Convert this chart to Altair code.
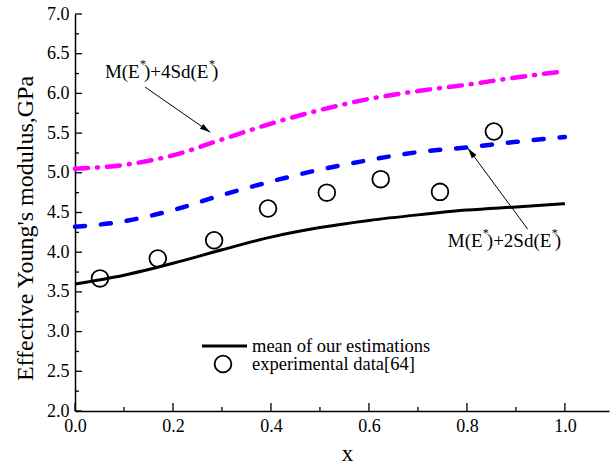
import math
import altair as alt
import pandas as pd

# ---------------- data ----------------
x_grid = [0.0, 0.1, 0.2, 0.3, 0.4, 0.5, 0.6, 0.7, 0.8, 0.9, 1.0]
mean_vals = [3.60, 3.71, 3.86, 4.03, 4.19, 4.31, 4.40, 4.47, 4.53, 4.57, 4.61]
sd2_vals = [4.32, 4.39, 4.53, 4.72, 4.89, 5.04, 5.16, 5.26, 5.32, 5.39, 5.45]
sd4_vals = [5.05, 5.10, 5.22, 5.42, 5.62, 5.79, 5.93, 6.03, 6.11, 6.20, 6.28]

exp_x = [0.051, 0.169, 0.284, 0.394, 0.514, 0.624, 0.745, 0.855]
exp_y = [3.67, 3.92, 4.15, 4.55, 4.75, 4.92, 4.76, 5.52]

y_major = [2.0, 2.5, 3.0, 3.5, 4.0, 4.5, 5.0, 5.5, 6.0, 6.5, 7.0]
y_minor = [2.25, 2.75, 3.25, 3.75, 4.25, 4.75, 5.25, 5.75, 6.25, 6.75]
x_major = [0.0, 0.2, 0.4, 0.6, 0.8, 1.0]
x_minor = [0.1, 0.3, 0.5, 0.7, 0.9]

ann_text = ["M(E*)+4Sd(E*)", "M(E*)+2Sd(E*)"]
ann_x = [0.061, 0.761]
ann_y = [6.20, 4.06]
arrow_x1 = [0.143, 0.924]
arrow_y1 = [6.08, 4.29]
arrow_x2 = [0.276, 0.802]
arrow_y2 = [5.51, 5.31]

legend_labels = ["mean of our estimations", "experimental data[64]"]
x_title = "x"
y_title = "Effective Young's modulus,GPa"

# ---------------- layout ----------------
W, H = 534, 397
X_DOM = [0.0, 1.09]
Y_DOM = [2.0, 7.0]
FONT = "Liberation Serif"

xs = alt.Scale(domain=X_DOM, nice=False, zero=False)
ys = alt.Scale(domain=Y_DOM, nice=False, zero=False)

AX_X = alt.Axis(values=x_major, format=".1f", title=x_title, grid=False,
                ticks=False, tickSize=0, labelPadding=6, labelOverlap=False,
                labelFlush=False, titleX=272, titleY=42, titleBaseline="middle",
                titleFontSize=23)
AX_Y = alt.Axis(values=y_major, format=".1f", title=y_title, grid=False,
                ticks=False, tickSize=0, labelPadding=6, labelOverlap=False,
                labelFlush=False, titleX=-50, titleY=214, titleAngle=270,
                titleAlign="center", titleBaseline="middle", titleFontSize=24)


def X(f):
    return alt.X(f, scale=xs, axis=AX_X, title=x_title)


def Y(f):
    return alt.Y(f, scale=ys, axis=AX_Y, title=y_title)


curves = pd.DataFrame({"x": x_grid, "mean": mean_vals, "sd2": sd2_vals, "sd4": sd4_vals})
exp_df = pd.DataFrame({"x": exp_x, "y": exp_y})
one = pd.DataFrame({"k": [0]})

base = alt.Chart(curves)

mean_line = base.mark_line(color="black", strokeWidth=3, interpolate="monotone").encode(
    x=X("x:Q"), y=Y("mean:Q"))
sd2_line = base.mark_line(color="#0000FF", strokeWidth=4.5, interpolate="monotone",
                          strokeDash=[10, 16], strokeCap="round").encode(
    x=X("x:Q"), y=Y("sd2:Q"))
sd4_line = base.mark_line(color="#FF00FF", strokeWidth=4.5, interpolate="monotone",
                          strokeDash=[13, 9, 1, 9], strokeCap="round").encode(
    x=X("x:Q"), y=Y("sd4:Q"))

points = alt.Chart(exp_df).mark_point(shape="circle", size=280, filled=False,
                                      color="black", strokeWidth=1.8, opacity=1).encode(
    x=X("x:Q"), y=Y("y:Q"))


# inward ticks
def yticks(vals, length):
    return alt.Chart(pd.DataFrame({"v": vals})).mark_rule(color="black", strokeWidth=1.3).encode(
        y=Y("v:Q"), x=alt.value(0), x2=alt.value(length))


def xticks(vals, length):
    return alt.Chart(pd.DataFrame({"v": vals})).mark_rule(color="black", strokeWidth=1.3).encode(
        x=X("v:Q"), y=alt.value(H), y2=alt.value(H - length))


ticks = [yticks(y_major, 7), yticks(y_minor, 4), xticks(x_major, 8), xticks(x_minor, 4)]

# annotations
ann_layers = []
for t, ax, ay in zip(ann_text, ann_x, ann_y):
    segs = t.split("*")
    d = pd.DataFrame({"x": [ax], "y": [ay]})
    offs = [0, 39, 107]
    star_offs = [35, 104]
    for s, o in zip(segs, offs):
        ann_layers.append(alt.Chart(d).mark_text(
            text=s, align="left", baseline="alphabetic", dx=o, font=FONT,
            fontSize=19, color="black").encode(x=X("x:Q"), y=Y("y:Q")))
    for o in star_offs:
        ann_layers.append(alt.Chart(d).mark_text(
            text="*", align="left", baseline="alphabetic", dx=o, dy=-10, font=FONT,
            fontSize=12, color="black").encode(x=X("x:Q"), y=Y("y:Q")))

px_x = W / (X_DOM[1] - X_DOM[0])
px_y = H / (Y_DOM[1] - Y_DOM[0])
angles = [math.degrees(math.atan2((b - a) * px_x, (d - c) * px_y)) % 360
          for a, b, c, d in zip(arrow_x1, arrow_x2, arrow_y1, arrow_y2)]
arrows_df = pd.DataFrame({"x1": arrow_x1, "y1": arrow_y1, "x2": arrow_x2,
                          "y2": arrow_y2, "ang": angles})
arrow_lines = alt.Chart(arrows_df).mark_rule(color="black", strokeWidth=1).encode(
    x=X("x1:Q"), y=Y("y1:Q"), x2="x2:Q", y2="y2:Q")
arrow_heads = alt.Chart(arrows_df).mark_point(
    shape="M0,0L0.55,2L-0.55,2Z", filled=True, color="black", size=110, opacity=1).encode(
    x=X("x2:Q"), y=Y("y2:Q"), angle=alt.Angle("ang:Q", scale=None))

# legend (manual, inside plot)
leg_line = alt.Chart(one).mark_rule(color="black", strokeWidth=3).encode(
    x=alt.value(127), x2=alt.value(172), y=alt.value(332))
leg_circle = alt.Chart(one).mark_point(shape="circle", size=280, filled=False,
                                       color="black", strokeWidth=1.8, opacity=1).encode(
    x=alt.value(148), y=alt.value(350))
leg_t1 = alt.Chart(one).mark_text(text=legend_labels[0], align="left", baseline="middle",
                                  font=FONT, fontSize=18.5, color="black").encode(
    x=alt.value(177), y=alt.value(332))
leg_t2 = alt.Chart(one).mark_text(text=legend_labels[1], align="left", baseline="middle",
                                  font=FONT, fontSize=18.5, color="black").encode(
    x=alt.value(177), y=alt.value(350))

chart = alt.layer(
    mean_line, sd2_line, sd4_line, points, *ticks, arrow_lines, arrow_heads,
    *ann_layers, leg_line, leg_circle, leg_t1, leg_t2
).properties(
    width=W, height=H,
    autosize=alt.AutoSizeParams(type="none"),
    padding={"left": 75, "top": 14, "right": 2, "bottom": 54},
    background="white",
).configure_view(stroke=None).configure_axis(
    labelFont=FONT, titleFont=FONT, labelFontSize=18, labelColor="black",
    titleColor="black", titleFontWeight="normal", domainColor="black",
    domainWidth=1.5, labelOverlap=False,
)

chart.save("out.html", embed_options={"renderer": "svg", "actions": False})
